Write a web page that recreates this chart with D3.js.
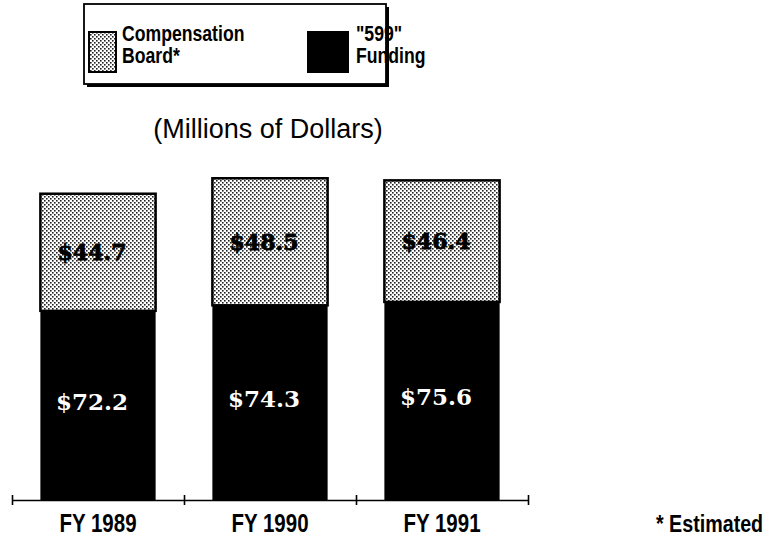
<!DOCTYPE html>
<html>
<head>
<meta charset="utf-8">
<script src="https://cdn.jsdelivr.net/npm/d3@7"></script>
<style>
  body { margin: 0; background: #fff; }
  svg { display: block; }
</style>
</head>
<body>
<svg id="chart" width="769" height="538"></svg>
<script>
// Fiscal years and the two stacked funding sources (millions of dollars)
const years = ["FY 1989", "FY 1990", "FY 1991"];
const funding599 = [72.2, 74.3, 75.6];
const compensationBoard = [44.7, 48.5, 46.4];
const legendLabels = [["Compensation", "Board*"], ["\"599\"", "Funding"]];
const unitsLabel = "(Millions of Dollars)";
const footnote = "* Estimated";

const svg = d3.select("#chart");
const sans = "'Liberation Sans', Arial, sans-serif";
const serif = "'DejaVu Serif', 'Liberation Serif', serif";
const condense = 0.82; // horizontal squeeze for the condensed bold captions

// Condensed bold caption placed at (x, y)
function caption(parent, x, y, size, anchor) {
  return parent.append("g")
    .attr("transform", `translate(${x},${y}) scale(${condense},1)`)
    .append("text")
    .attr("text-anchor", anchor || "start")
    .attr("font-family", sans).attr("font-weight", "bold").attr("font-size", size);
}

// Halftone dot pattern for the Compensation Board segment
const defs = svg.append("defs");
const pat = defs.append("pattern")
  .attr("id", "dots").attr("patternUnits", "userSpaceOnUse")
  .attr("width", 4).attr("height", 4);
pat.append("rect").attr("width", 4).attr("height", 4).attr("fill", "#fff");
pat.append("rect").attr("x", 0).attr("y", 0).attr("width", 1.6).attr("height", 1.6).attr("fill", "#222");
pat.append("rect").attr("x", 2).attr("y", 2).attr("width", 1.6).attr("height", 1.6).attr("fill", "#222");

const rows = years.map((y, i) => ({ year: y, funding: funding599[i], comp: compensationBoard[i] }));
const stack = d3.stack().keys(["funding", "comp"])(rows);

// Scales
const xAxisLeft = 12, xAxisRight = 528, baseY = 500;
const x = d3.scaleBand().domain(years).range([xAxisLeft, xAxisRight])
  .paddingInner(0.33).paddingOuter(0.165);
const xEdges = d3.scaleLinear().domain([0, years.length]).range([xAxisLeft, xAxisRight]);
const y = d3.scaleLinear().domain([0, 125]).range([baseY, baseY - 327.5]);

// Bars
const fills = { funding: "#000", comp: "url(#dots)" };
stack.forEach(layer => {
  svg.append("g").selectAll("rect").data(layer).join("rect")
    .attr("x", d => x(d.data.year))
    .attr("width", x.bandwidth())
    .attr("y", d => y(d[1]))
    .attr("height", d => y(d[0]) - y(d[1]))
    .attr("fill", fills[layer.key])
    .attr("stroke", "#000")
    .attr("stroke-width", layer.key === "comp" ? 2.5 : 0);
});

// Value labels
const fundingLayer = stack[0], compLayer = stack[1];
svg.append("g").selectAll("text").data(fundingLayer).join("text")
  .attr("x", d => x(d.data.year) + x.bandwidth() / 2 - 6)
  .attr("y", d => (y(d[0]) + y(d[1])) / 2 - 4)
  .attr("text-anchor", "middle").attr("dominant-baseline", "central")
  .attr("font-family", serif).attr("font-weight", "bold").attr("font-size", 23)
  .attr("fill", "#fff")
  .text(d => "$" + d.data.funding.toFixed(1));
svg.append("g").selectAll("text").data(compLayer).join("text")
  .attr("x", d => x(d.data.year) + x.bandwidth() / 2 - 6)
  .attr("y", d => (y(d[0]) + y(d[1])) / 2)
  .attr("text-anchor", "middle").attr("dominant-baseline", "central")
  .attr("font-family", serif).attr("font-weight", "bold").attr("font-size", 22)
  .attr("fill", "#000").attr("stroke", "#000").attr("stroke-width", 0.8)
  .text(d => "$" + d.data.comp.toFixed(1));

// Baseline axis with ticks on the category boundaries
const axis = d3.axisBottom(xEdges).tickValues(d3.range(years.length + 1))
  .tickFormat("").tickSizeOuter(0).tickSizeInner(5);
const gAxis = svg.append("g").attr("transform", `translate(0,${baseY})`).call(axis);
gAxis.select(".domain").attr("stroke", "#000").attr("stroke-width", 1.6);
gAxis.selectAll(".tick line").attr("y1", -5).attr("y2", 5).attr("stroke-width", 1.6);

// Category labels
years.forEach(d => {
  caption(svg, x(d) + x.bandwidth() / 2, 532, 25, "middle").text(d);
});

// Footnote
caption(svg, 656, 532, 24).text(footnote);

// Units heading
svg.append("text").attr("x", 268).attr("y", 138)
  .attr("text-anchor", "middle")
  .attr("font-family", sans).attr("font-size", 27)
  .text(unitsLabel);

// Legend box with drop shadow
const lg = svg.append("g");
const box = { x: 84, y: 4, w: 302, h: 80 };
lg.append("rect").attr("x", box.x + 3).attr("y", box.y + 3).attr("width", box.w).attr("height", box.h).attr("fill", "#000");
lg.append("rect").attr("x", box.x).attr("y", box.y).attr("width", box.w).attr("height", box.h)
  .attr("fill", "#fff").attr("stroke", "#000").attr("stroke-width", 1.8);
const swatches = [
  { fill: "url(#dots)", x: 89, w: 27, tx: 122 },
  { fill: "#000", x: 308, w: 40, tx: 356 }
];
swatches.forEach((s, i) => {
  lg.append("rect").attr("x", s.x).attr("y", 32).attr("width", s.w).attr("height", 40)
    .attr("fill", s.fill).attr("stroke", "#000").attr("stroke-width", 2);
  legendLabels[i].forEach((line, j) => {
    caption(lg, s.tx, 41 + j * 22, 21.5).text(line);
  });
});
</script>
</body>
</html>
